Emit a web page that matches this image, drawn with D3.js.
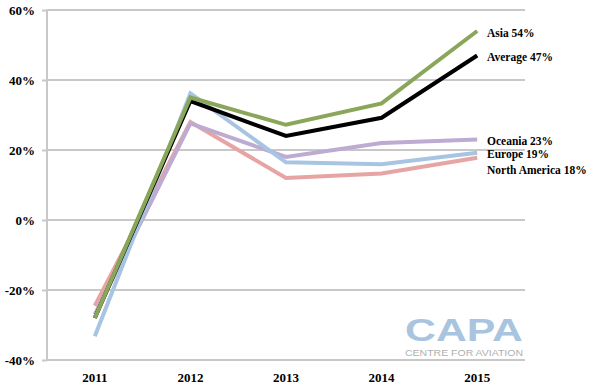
<!DOCTYPE html>
<html>
<head>
<meta charset="utf-8">
<script src="https://cdn.jsdelivr.net/npm/d3@7"></script>
<style>
  body { margin: 0; background: #fff; }
  svg { display: block; }
</style>
</head>
<body>
<div id="chart"></div>
<script>
// data
const years = ["2011", "2012", "2013", "2014", "2015"];
const yTicks = [-40, -20, 0, 20, 40, 60];

const northAmerica = [-24.5, 28, 12, 13.3, 17.8];
const oceania = [-27, 27.6, 18, 22, 23];
const europe = [-33.2, 36.2, 16.5, 15.9, 19.2];
const average = [-28, 34, 24, 29.2, 47];
const asia = [-28, 35, 27.2, 33.3, 54];

const seriesNames = ["North America", "Oceania", "Europe", "Average", "Asia"];
const seriesValues = [northAmerica, oceania, europe, average, asia];
const seriesColors = ["#e6a4a4", "#bdabd1", "#a7c5e3", "#000000", "#89a65a"];
const seriesLabels = ["North America 18%", "Oceania 23%", "Europe 19%", "Average 47%", "Asia 54%"];
const labelY = [174, 145, 158, 61, 37];

const width = 604, height = 388;
const plotLeft = 47, plotRight = 525, plotTop = 10, plotBottom = 360;

const svg = d3.select("#chart").append("svg")
  .attr("width", width)
  .attr("height", height);

const x = d3.scaleBand().domain(years).range([plotLeft, plotRight]);
const y = d3.scaleLinear().domain([-40, 60]).range([plotBottom, plotTop]);

// gridlines + y axis
const yAxis = svg.append("g")
  .attr("transform", "translate(" + plotLeft + ",0)")
  .call(d3.axisLeft(y).tickValues(yTicks).tickSize(5).tickFormat(d => d + "%"));
yAxis.select(".domain").remove();
yAxis.selectAll("line").attr("stroke", "#c8c8c8").attr("stroke-width", 2);
yAxis.selectAll("text")
  .attr("x", -12)
  .style("font-family", "'Liberation Serif', serif")
  .style("font-weight", "bold")
  .style("font-size", "13px")
  .attr("fill", "#000");

svg.append("g").selectAll("line")
  .data(yTicks)
  .enter()
  .append("line")
  .attr("x1", plotLeft).attr("x2", plotRight)
  .attr("y1", d => y(d)).attr("y2", d => y(d))
  .attr("stroke", "#c8c8c8")
  .attr("stroke-width", 2);

svg.append("line")
  .attr("x1", plotLeft).attr("x2", plotLeft)
  .attr("y1", plotTop).attr("y2", plotBottom)
  .attr("stroke", "#c8c8c8")
  .attr("stroke-width", 2);

// x axis labels
const xAxis = svg.append("g")
  .attr("transform", "translate(0," + plotBottom + ")")
  .call(d3.axisBottom(x).tickSize(0).tickPadding(13));
xAxis.select(".domain").remove();
xAxis.selectAll("text")
  .style("font-family", "'Liberation Serif', serif")
  .style("font-weight", "bold")
  .style("font-size", "13px")
  .attr("fill", "#000");

// CAPA watermark
svg.append("text")
  .attr("x", 405).attr("y", 341)
  .attr("textLength", 118)
  .attr("lengthAdjust", "spacingAndGlyphs")
  .style("font-family", "'Liberation Sans', Arial, sans-serif")
  .style("font-weight", "900")
  .style("font-size", "31px")
  .attr("fill", "#a9c4df")
  .text("CAPA");
svg.append("text")
  .attr("x", 405).attr("y", 356)
  .attr("textLength", 118)
  .attr("lengthAdjust", "spacingAndGlyphs")
  .style("font-family", "'Liberation Sans', Arial, sans-serif")
  .style("font-size", "9px")
  .attr("fill", "#b0b0b0")
  .text("CENTRE FOR AVIATION");

// lines
const line = d3.line()
  .x((d, i) => x(years[i]) + x.bandwidth() / 2)
  .y(d => y(d));

svg.append("g").selectAll("path")
  .data(seriesValues)
  .enter()
  .append("path")
  .attr("d", d => line(d))
  .attr("fill", "none")
  .attr("stroke", (d, i) => seriesColors[i])
  .attr("stroke-width", 4)
  .attr("stroke-linejoin", "miter");

// end labels
svg.append("g").selectAll("text")
  .data(seriesLabels)
  .enter()
  .append("text")
  .attr("x", 487)
  .attr("y", (d, i) => labelY[i])
  .style("font-family", "'Liberation Serif', serif")
  .style("font-weight", "bold")
  .style("font-size", "11.5px")
  .attr("fill", "#000")
  .text(d => d);
</script>
</body>
</html>
